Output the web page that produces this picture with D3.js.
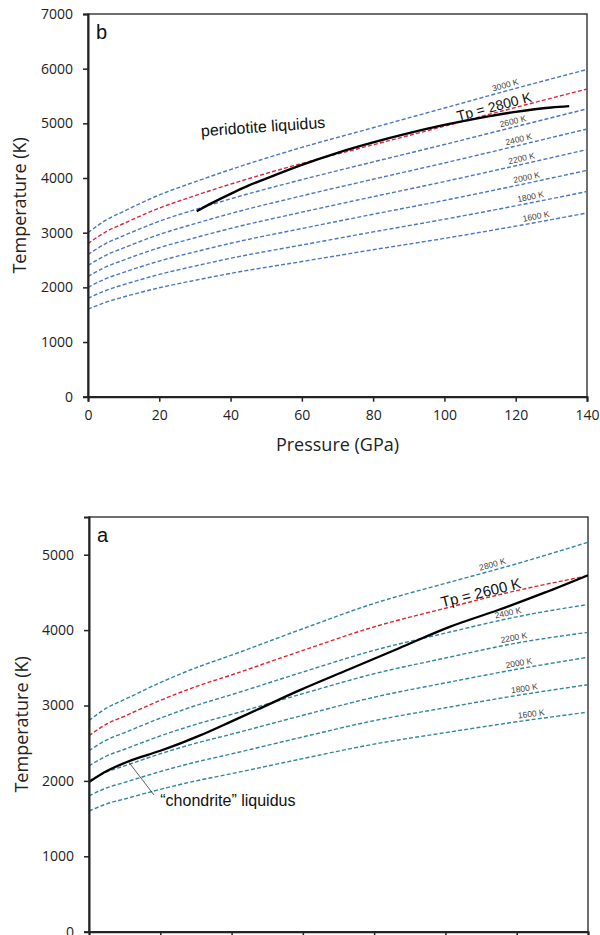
<!DOCTYPE html>
<html><head><meta charset="utf-8">
<script src="https://cdn.jsdelivr.net/npm/d3@7"></script>
<style>body{margin:0;background:#fff}</style>
</head><body>
<svg id="chart" width="600" height="935"></svg>
<script>
// ---------- data ----------
const pressureGrid = [0, 5, 10, 20, 30, 40, 60, 80, 100, 120, 140];
const xTicks = [0, 20, 40, 60, 80, 100, 120, 140];

// panel b (top)
const topTp = [1600, 1800, 2000, 2200, 2400, 2600, 2800, 3000];
const topAdiabatT = [
  [1600, 1728, 1824, 1992, 2128, 2256, 2472, 2688, 2896, 3120, 3360],
  [1800, 1943, 2049, 2237, 2389, 2532, 2775, 3014, 3245, 3492, 3753],
  [2000, 2158, 2274, 2481, 2649, 2806, 3076, 3337, 3591, 3860, 4140],
  [2200, 2373, 2499, 2725, 2907, 3078, 3375, 3658, 3935, 4224, 4521],
  [2400, 2587, 2722, 2967, 3165, 3350, 3674, 3977, 4275, 4584, 4896],
  [2600, 2802, 2946, 3209, 3421, 3619, 3970, 4294, 4613, 4940, 5265],
  [2800, 3016, 3168, 3450, 3676, 3888, 4266, 4608, 4948, 5292, 5628],
  [3000, 3228, 3390, 3690, 3930, 4155, 4560, 4920, 5280, 5640, 5985]
];
const topLabelP = [126, 124.5, 123.4, 122, 121.2, 119.6, 114.4, 117.5];
const topHighlightTp = 2800;
const topYTicks = [0, 1000, 2000, 3000, 4000, 5000, 6000, 7000];
const peridotiteP = [30.5, 35, 40, 45, 50, 60, 70, 80, 90, 100, 110, 120, 130, 135];
const peridotiteT = [3394, 3550, 3710, 3860, 3990, 4240, 4460, 4650, 4820, 4970, 5100, 5210, 5290, 5315];

// panel a (bottom)
const botTp = [1600, 1800, 2000, 2200, 2400, 2600, 2800];
const botAdiabatT = [
  [1600, 1696, 1760, 1888, 2000, 2096, 2296, 2488, 2640, 2784, 2912],
  [1800, 1908, 1980, 2124, 2250, 2358, 2583, 2799, 2970, 3132, 3276],
  [2000, 2120, 2200, 2360, 2500, 2620, 2870, 3110, 3300, 3480, 3640],
  [2200, 2332, 2420, 2596, 2750, 2882, 3157, 3421, 3630, 3828, 3970],
  [2400, 2544, 2640, 2832, 3000, 3144, 3444, 3732, 3960, 4176, 4340],
  [2600, 2756, 2860, 3068, 3250, 3406, 3731, 4043, 4290, 4524, 4720],
  [2800, 2968, 3080, 3304, 3500, 3668, 4018, 4354, 4620, 4880, 5165]
];
const botLabelP = [124.3, 122.4, 120.9, 119.5, 117.9, 110.4, 113.6];
const botHighlightTp = 2600;
const botYTicks = [0, 1000, 2000, 3000, 4000, 5000];
const chondriteP = [0, 5, 11, 20, 26, 31, 40, 47, 59, 73, 87, 101, 115, 128, 140];
const chondriteT = [1985, 2130, 2258, 2400, 2505, 2600, 2790, 2940, 3200, 3480, 3760, 4040, 4270, 4500, 4728];

// ---------- drawing ----------
const svg = d3.select('#chart');
svg.append('rect').attr('width', 600).attr('height', 935).attr('fill', '#fff');

function drawPanel(o) {
  const g = svg.append('g');
  const x = d3.scaleLinear().domain([0, 140]).range([o.left, o.right]);
  const y = d3.scaleLinear().domain([0, o.yMax]).range([o.bottom, o.top]);

  // frame
  g.append('rect').attr('x', o.left).attr('y', o.top)
    .attr('width', o.right - o.left).attr('height', o.bottom - o.top)
    .attr('fill', 'none').attr('stroke', '#333').attr('stroke-width', 1.4);

  const clipId = 'clip' + o.id;
  svg.append('clipPath').attr('id', clipId).append('rect')
    .attr('x', o.left).attr('y', o.top).attr('width', o.right - o.left).attr('height', o.bottom - o.top);
  const plot = g.append('g').attr('clip-path', `url(#${clipId})`);

  const line = d3.line().x(d => x(d[0])).y(d => y(d[1])).curve(d3.curveMonotoneX);

  o.tp.forEach((tp, i) => {
    const pts = pressureGrid.map((p, j) => [p, o.adiabats[i][j]]);
    plot.append('path').attr('d', line(pts)).attr('fill', 'none')
      .attr('stroke', tp === o.highlight ? o.red : o.blue)
      .attr('stroke-width', 1.4).attr('stroke-dasharray', '4,2.2');
  });

  // liquidus
  const lpts = o.liqP.map((p, j) => [p, o.liqT[j]]);
  plot.append('path').attr('d', line(lpts)).attr('fill', 'none')
    .attr('stroke', '#000').attr('stroke-width', 2.3);

  // adiabat labels
  o.tp.forEach((tp, i) => {
    const interp = d3.scaleLinear().domain(pressureGrid).range(o.adiabats[i]);
    const p = o.labelP[i];
    const px = x(p), py = y(interp(p));
    const dx = x(p + 3) - x(p - 3), dy = y(interp(p + 3)) - y(interp(p - 3));
    const ang = Math.atan2(dy, dx) * 180 / Math.PI;
    const big = tp === o.highlight;
    g.append('text').attr('transform', `translate(${px},${py}) rotate(${ang})`)
      .attr('y', big ? -1.5 : -3).attr('text-anchor', 'middle')
      .attr('font-family', 'Liberation Sans, Arial, sans-serif')
      .attr('font-size', big ? o.bigSize : 8.5)
      .attr('fill', big ? '#111' : '#444')
      .text(big ? `Tp = ${tp} K` : `${tp} K`);
  });

  // axes
  const xAxis = d3.axisBottom(x).tickValues(xTicks).tickSize(5).tickPadding(8)
    .tickFormat(o.showXLabels ? d3.format('d') : () => '');
  const gx = g.append('g').attr('transform', `translate(0,${o.bottom})`).call(xAxis);
  if (!o.showXLabels) gx.selectAll('.tick text').remove();
  const yAxis = d3.axisLeft(y).tickValues(o.yTicks).tickSize(5).tickPadding(10).tickFormat(d3.format('d'));
  const gy = g.append('g').attr('transform', `translate(${o.left},0)`).call(yAxis);
  [gx, gy].forEach(a => {
    a.select('.domain').attr('stroke', '#222').attr('stroke-width', 2);
    a.selectAll('.tick line').attr('stroke', '#222').attr('stroke-width', 1.5);
    a.selectAll('.tick text').attr('font-family', 'Open Sans, sans-serif')
      .attr('font-size', 14).attr('fill', '#222');
  });

  // axis titles
  g.append('text').attr('transform', `translate(${o.yTitleX},${(o.top + o.bottom) / 2}) rotate(-90)`)
    .attr('text-anchor', 'middle').attr('font-family', 'Open Sans, sans-serif')
    .attr('font-size', 18).attr('fill', '#222').text('Temperature (K)');
  if (o.xTitle) {
    g.append('text').attr('x', (o.left + o.right) / 2).attr('y', o.bottom + 54)
      .attr('text-anchor', 'middle').attr('font-family', 'Open Sans, sans-serif')
      .attr('font-size', 18).attr('fill', '#222').text(o.xTitle);
  }

  // panel letter
  g.append('text').attr('x', o.left + 8).attr('y', o.top + 25)
    .attr('font-family', 'Liberation Sans, Arial, sans-serif').attr('font-size', 20)
    .attr('fill', '#111').text(o.letter);

  return { g, x, y };
}

// top panel b
const b = drawPanel({
  id: 'b', left: 88, right: 587, top: 14, bottom: 396.7, yMax: 7000,
  tp: topTp, adiabats: topAdiabatT, labelP: topLabelP, highlight: topHighlightTp,
  liqP: peridotiteP, liqT: peridotiteT, yTicks: topYTicks,
  blue: '#4a78c4', red: '#d8263c', bigSize: 14, yTitleX: 26,
  xTitle: 'Pressure (GPa)', letter: 'b', showXLabels: true
});
b.g.append('text')
  .attr('transform', `translate(${b.x(31.8)},${b.y(4760)}) rotate(-4)`)
  .attr('font-family', 'Liberation Sans, Arial, sans-serif').attr('font-size', 16)
  .attr('fill', '#111').text('peridotite liquidus');

// bottom panel a
const a = drawPanel({
  id: 'a', left: 89, right: 588, top: 517, bottom: 931.7, yMax: 5500,
  tp: botTp, adiabats: botAdiabatT, labelP: botLabelP, highlight: botHighlightTp,
  liqP: chondriteP, liqT: chondriteT, yTicks: botYTicks,
  blue: '#2f87a0', red: '#d8262e', bigSize: 15, yTitleX: 28,
  xTitle: null, letter: 'a', showXLabels: false
});
const chondInterp = d3.scaleLinear().domain(chondriteP).range(chondriteT);
a.g.append('line')
  .attr('x1', a.x(11)).attr('y1', a.y(chondInterp(11)))
  .attr('x2', a.x(18.2)).attr('y2', a.y(1815))
  .attr('stroke', '#333').attr('stroke-width', 0.8);
a.g.append('text').attr('x', a.x(20)).attr('y', a.y(1670))
  .attr('font-family', 'Liberation Sans, Arial, sans-serif').attr('font-size', 16)
  .attr('fill', '#111').text('\u201Cchondrite\u201D liquidus');
</script>
</body></html>
